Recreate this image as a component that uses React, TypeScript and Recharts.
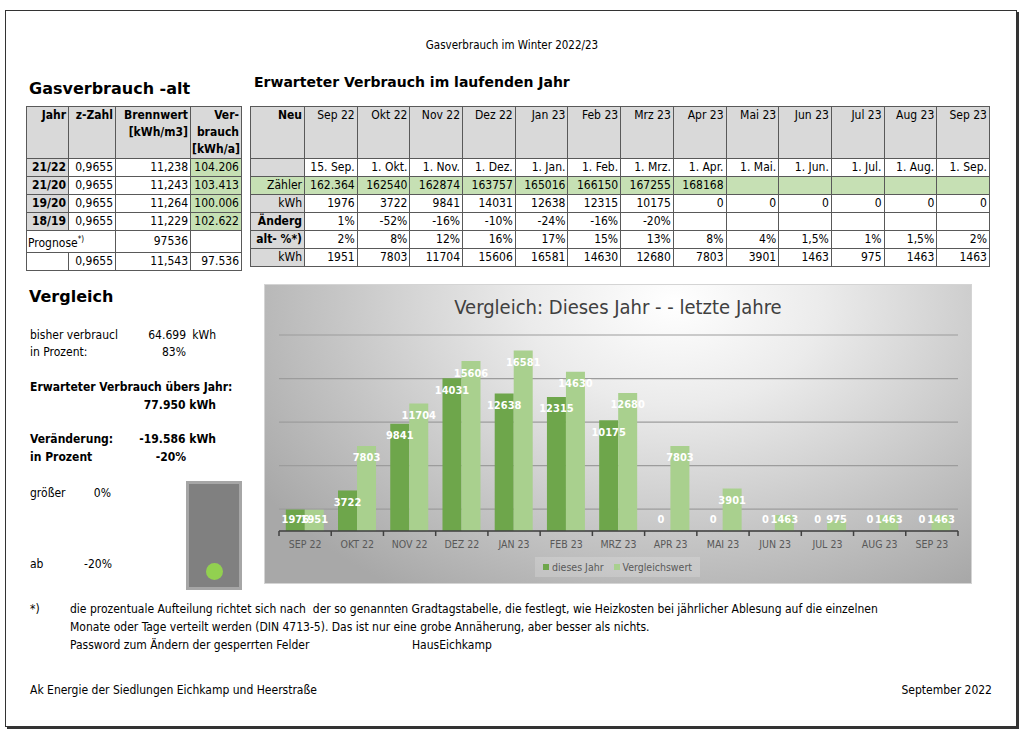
import React from "react";
import { BarChart, Bar, XAxis, YAxis, CartesianGrid, LabelList } from "recharts";

// ---- chart data ----
const monthsChart = ["SEP 22", "OKT 22", "NOV 22", "DEZ 22", "JAN 23", "FEB 23", "MRZ 23", "APR 23", "MAI 23", "JUN 23", "JUL 23", "AUG 23", "SEP 23"];
const diesesJahr = [1976, 3722, 9841, 14031, 12638, 12315, 10175, 0, 0, 0, 0, 0, 0];
const vergleichswert = [1951, 7803, 11704, 15606, 16581, 14630, 12680, 7803, 3901, 1463, 975, 1463, 1463];
const yTicks = [0, 2000, 4000, 6000, 8000, 10000, 12000, 14000, 16000, 18000];

// ---- left table ----
const altJahre = ["21/22", "21/20", "19/20", "18/19"];
const altZahl = ["0,9655", "0,9655", "0,9655", "0,9655"];
const altBrennwert = ["11,238", "11,243", "11,264", "11,229"];
const altVerbrauch = ["104.206", "103.413", "100.006", "102.622"];

// ---- right table ----
const tableMonths = ["Sep 22", "Okt 22", "Nov 22", "Dez 22", "Jan 23", "Feb 23", "Mrz 23", "Apr 23", "Mai 23", "Jun 23", "Jul 23", "Aug 23", "Sep 23"];
const ablesung = ["15. Sep.", "1. Okt.", "1. Nov.", "1. Dez.", "1. Jan.", "1. Feb.", "1. Mrz.", "1. Apr.", "1. Mai.", "1. Jun.", "1. Jul.", "1. Aug.", "1. Sep."];
const zaehler = ["162.364", "162540", "162874", "163757", "165016", "166150", "167255", "168168", "", "", "", "", ""];
const aenderung = ["1%", "-52%", "-16%", "-10%", "-24%", "-16%", "-20%", "", "", "", "", "", ""];
const altProzent = ["2%", "8%", "12%", "16%", "17%", "15%", "13%", "8%", "4%", "1,5%", "1%", "1,5%", "2%"];

const chartData = monthsChart.map((m, i) => ({ month: m, dieses: diesesJahr[i], vergleich: vergleichswert[i] }));

const NARROW = '"DejaVu Sans Condensed", "Liberation Sans Narrow", sans-serif';
const HEAD = '"DejaVu Sans", Verdana, sans-serif';
const DARK = "#6ea64b";
const LIGHT = "#a9d08e";
const GRAY = "#d9d9d9";
const GREEN = "#c6e0b4";
const LINE = "1px solid #595959";

const CH_W = 708;
const CH_H = 300;
const MARGIN = { top: 51, right: 14, bottom: 23, left: 15 };
const BAND = (CH_W - MARGIN.left - MARGIN.right) / monthsChart.length;

function T({ x, y, children, bold, size = 12, right, center, font = NARROW, w }: any) {
  const style: React.CSSProperties = {
    position: "absolute",
    top: y - 9,
    height: 18,
    lineHeight: "18px",
    fontSize: size,
    fontFamily: font,
    fontWeight: bold ? "bold" : "normal",
    whiteSpace: "nowrap",
    color: "#000",
  };
  if (right) {
    style.right = 1024 - x;
  } else if (center) {
    style.left = x - (w || 300) / 2;
    style.width = w || 300;
    style.textAlign = "center";
  } else {
    style.left = x;
  }
  return <div style={style}>{children}</div>;
}

function BarLabel(props: any) {
  const vb = props.viewBox || {};
  const x = props.x ?? vb.x;
  const y = props.y ?? vb.y;
  const width = props.width ?? vb.width;
  const height = props.height ?? vb.height;
  const value = props.value;
  if (x == null || y == null) return null;
  const cx = x + width / 2;
  const cy = Math.min(y + 11.5, y + height - 12);
  return (
    <text x={cx} y={cy} dy="0.36em" textAnchor="middle" fill="#fff" fontSize={11} fontWeight="bold" fontFamily={NARROW}>
      {value}
    </text>
  );
}

function MonthTick(props: any) {
  const { x, y, payload, index } = props;
  const last = index === monthsChart.length - 1;
  return (
    <g>
      <line x1={x - BAND / 2} x2={x - BAND / 2} y1={y} y2={y + 5} stroke="#404040" strokeWidth={1.5} />
      {last && <line x1={x + BAND / 2} x2={x + BAND / 2} y1={y} y2={y + 5} stroke="#404040" strokeWidth={1.5} />}
      <text x={x} y={y + 13} dy="0.35em" textAnchor="middle" fill="#595959" fontSize={10.5} fontFamily={NARROW}>
        {payload.value}
      </text>
    </g>
  );
}

const td = (extra: React.CSSProperties = {}): React.CSSProperties => ({
  border: LINE,
  padding: "0 2px 0 1px",
  textAlign: "right",
  fontFamily: NARROW,
  fontSize: 12,
  height: 17,
  lineHeight: "17px",
  whiteSpace: "nowrap",
  overflow: "hidden",
  ...extra,
});

function LeftTable() {
  const cols = [42, 47, 75, 51];
  return (
    <table style={{ position: "absolute", left: 26, top: 106, borderCollapse: "collapse", tableLayout: "fixed", width: 215 }}>
      <colgroup>
        {cols.map((c, i) => <col key={i} style={{ width: c }} />)}
      </colgroup>
      <tbody>
        <tr>
          <td style={td({ background: GRAY, fontWeight: "bold", verticalAlign: "top", height: 51 })}>Jahr</td>
          <td style={td({ background: GRAY, fontWeight: "bold", verticalAlign: "top" })}>z-Zahl</td>
          <td style={td({ background: GRAY, fontWeight: "bold", verticalAlign: "top" })}>Brennwert<br />[kWh/m3]</td>
          <td style={td({ background: GRAY, fontWeight: "bold", verticalAlign: "top" })}>Ver-<br />brauch<br />[kWh/a]</td>
        </tr>
        {altJahre.map((j, i) => (
          <tr key={j}>
            <td style={td({ background: GRAY, fontWeight: "bold" })}>{j}</td>
            <td style={td()}>{altZahl[i]}</td>
            <td style={td()}>{altBrennwert[i]}</td>
            <td style={td({ background: GREEN })}>{altVerbrauch[i]}</td>
          </tr>
        ))}
        <tr>
          <td colSpan={2} style={td({ textAlign: "left" })}>
            Prognose<sup style={{ fontSize: 8 }}>*)</sup>
          </td>
          <td style={td()}>97536</td>
          <td style={td()}></td>
        </tr>
        <tr>
          <td style={td()}></td>
          <td style={td()}>0,9655</td>
          <td style={td()}>11,543</td>
          <td style={td()}>97.536</td>
        </tr>
      </tbody>
    </table>
  );
}

function RightTable() {
  const rows: { label: string; bold?: boolean; values: (string | number)[]; bg?: string }[] = [
    { label: "", values: ablesung },
    { label: "Zähler", values: zaehler, bg: GREEN },
    { label: "kWh", values: diesesJahr },
    { label: "Änderg", bold: true, values: aenderung },
    { label: "alt- %*)", bold: true, values: altProzent },
    { label: "kWh", values: vergleichswert },
  ];
  return (
    <table style={{ position: "absolute", left: 250, top: 106, borderCollapse: "collapse", tableLayout: "fixed", width: 739 }}>
      <colgroup>
        <col style={{ width: 54 }} />
        {tableMonths.map((m) => <col key={m} style={{ width: 52.7 }} />)}
      </colgroup>
      <tbody>
        <tr>
          <td style={td({ background: GRAY, fontWeight: "bold", verticalAlign: "top", height: 51 })}>Neu</td>
          {tableMonths.map((m) => (
            <td key={m} style={td({ background: GRAY, verticalAlign: "top" })}>{m}</td>
          ))}
        </tr>
        {rows.map((r, ri) => (
          <tr key={ri}>
            <td style={td({ background: r.bg || GRAY, fontWeight: r.bold ? "bold" : "normal" })}>{r.label}</td>
            {r.values.map((v, i) => (
              <td key={i} style={td({ background: r.bg || "#fff" })}>{v}</td>
            ))}
          </tr>
        ))}
      </tbody>
    </table>
  );
}

function Chart() {
  return (
    <div
      style={{
        position: "absolute",
        left: 264,
        top: 284,
        width: CH_W,
        height: CH_H,
        background: "radial-gradient(ellipse 70% 115% at 58% 6%, #ffffff 0%, #ebebeb 30%, #c4c4c4 70%, #a8a8a8 100%)",
        boxShadow: "inset 0 0 0 1px #d4d4d4",
      }}
    >
      <div
        style={{
          position: "absolute",
          left: 0,
          top: 10,
          width: CH_W,
          textAlign: "center",
          fontFamily: NARROW,
          fontSize: 20,
          color: "#404040",
          lineHeight: "26px",
        }}
      >
        Vergleich: Dieses Jahr - - letzte Jahre
      </div>
      <BarChart width={CH_W} height={CH_H} data={chartData} margin={MARGIN} barGap={0} barCategoryGap="13%">
        <CartesianGrid vertical={false} stroke="#9c9c9c" strokeWidth={1.2} />
        <YAxis hide domain={[0, 18000]} ticks={yTicks} />
        <XAxis
          dataKey="month"
          height={30}
          axisLine={{ stroke: "#404040", strokeWidth: 1.5 }}
          tickLine={false}
          tickSize={0}
          tickMargin={0}
          tick={<MonthTick />}
          interval={0}
        />
        <Bar dataKey="dieses" fill={DARK} isAnimationActive={false} minPointSize={0.01}>
          <LabelList dataKey="dieses" content={(p: any) => <BarLabel {...p} />} />
        </Bar>
        <Bar dataKey="vergleich" fill={LIGHT} isAnimationActive={false} minPointSize={0.01}>
          <LabelList dataKey="vergleich" content={(p: any) => <BarLabel {...p} />} />
        </Bar>
      </BarChart>
      <div
        style={{
          position: "absolute",
          left: 271,
          top: 273,
          width: 165,
          height: 20,
          background: "rgba(255,255,255,0.18)",
          fontFamily: NARROW,
          fontSize: 10.5,
          color: "#595959",
          display: "flex",
          alignItems: "center",
          justifyContent: "center",
          gap: 10,
        }}
      >
        <span style={{ display: "flex", alignItems: "center", gap: 3 }}>
          <span style={{ width: 6, height: 6, background: DARK, display: "inline-block" }} />
          dieses Jahr
        </span>
        <span style={{ display: "flex", alignItems: "center", gap: 3 }}>
          <span style={{ width: 6, height: 6, background: LIGHT, display: "inline-block" }} />
          Vergleichswert
        </span>
      </div>
    </div>
  );
}

export default function App() {
  return (
    <div style={{ position: "absolute", left: 0, top: 0, width: 1024, height: 734, background: "#fff", overflow: "hidden" }}>
      <div
        style={{
          position: "absolute",
          left: 5,
          top: 10,
          width: 1010,
          height: 715,
          border: "1px solid #333",
          boxShadow: "2px 2px 0 #333",
        }}
      />
      <T x={512} y={45} center w={400} size={11.5}>Gasverbrauch im Winter 2022/23</T>

      <T x={29} y={89} bold size={16} font={HEAD}>Gasverbrauch -alt</T>
      <T x={254} y={82} bold size={14} font={HEAD}>Erwarteter Verbrauch im laufenden Jahr</T>

      <LeftTable />
      <RightTable />

      <T x={29} y={297} bold size={16} font={HEAD}>Vergleich</T>

      <T x={30} y={335}>bisher verbraucl</T>
      <T x={186} right y={335}>64.699</T>
      <T x={216} right y={335}>kWh</T>
      <T x={30} y={352}>in Prozent:</T>
      <T x={186} right y={352}>83%</T>
      <T x={30} y={387} bold>Erwarteter Verbrauch übers Jahr:</T>
      <T x={216} right y={405} bold>77.950 kWh</T>
      <T x={30} y={439} bold>Veränderung:</T>
      <T x={216} right y={439} bold>-19.586 kWh</T>
      <T x={30} y={457} bold>in Prozent</T>
      <T x={186} right y={457} bold>-20%</T>
      <T x={30} y={493}>größer</T>
      <T x={111} right y={493}>0%</T>
      <T x={30} y={564}>ab</T>
      <T x={112} right y={564}>-20%</T>

      <div
        style={{
          position: "absolute",
          left: 186,
          top: 481,
          width: 50,
          height: 103,
          background: "#808080",
          border: "3px solid #a6a6a6",
        }}
      >
        <div
          style={{
            position: "absolute",
            left: 17,
            top: 79,
            width: 17,
            height: 17,
            borderRadius: "50%",
            background: "#92d050",
          }}
        />
      </div>

      <Chart />

      <T x={30} y={609}>*)</T>
      <T x={70} y={609}>
        die prozentuale Aufteilung richtet sich nach&nbsp; der so genannten Gradtagstabelle, die festlegt, wie Heizkosten bei jährlicher Ablesung auf die einzelnen
      </T>
      <T x={70} y={627}>
        Monate oder Tage verteilt werden (DIN 4713-5). Das ist nur eine grobe Annäherung, aber besser als nichts.
      </T>
      <T x={70} y={645}>Password zum Ändern der gesperrten Felder</T>
      <T x={412} y={645}>HausEichkamp</T>

      <T x={30} y={690}>Ak Energie der Siedlungen Eichkamp und Heerstraße</T>
      <T x={992} right y={690}>September 2022</T>
    </div>
  );
}
